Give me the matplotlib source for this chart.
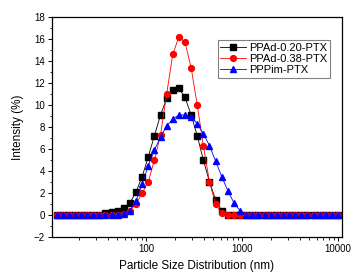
import matplotlib
matplotlib.use('Agg')
import matplotlib.pyplot as plt
from matplotlib.ticker import MultipleLocator, LogLocator, NullFormatter

plt.rcParams['font.family'] = ['Liberation Sans', 'DejaVu Sans']

# DLS size bins (nm)
sizes = [11.7, 13.54, 15.69, 18.17, 21.04, 24.36, 28.21, 32.67, 37.84, 43.82,
         50.75, 58.77, 68.06, 78.82, 91.28, 105.7, 122.4, 141.8, 164.2, 190.1,
         220.2, 255.0, 295.3, 342.0, 396.1, 458.7, 531.2, 615.1, 712.4, 825.0,
         955.4, 1106, 1281, 1484, 1718, 1990, 2305, 2669, 3091, 3580,
         4145, 4801, 5560, 6439, 7456, 8635, 10000]

ppad_020 = [0, 0, 0, 0, 0, 0, 0, 0,
            0.2, 0.3, 0.4, 0.6, 1.1, 2.1, 3.5, 5.3, 7.2, 9.1, 10.6, 11.4,
            11.5, 10.7, 9.1, 7.2, 5.0, 3.0, 1.4, 0.4,
            0, 0, 0, 0, 0, 0, 0, 0, 0, 0, 0, 0, 0, 0, 0, 0, 0, 0, 0]

ppad_038 = [0, 0, 0, 0, 0, 0, 0, 0, 0, 0, 0,
            0.1, 0.4, 1.0, 2.0, 3.0, 5.0, 7.3, 11.0, 14.6, 16.2, 15.7, 13.4,
            10.0, 6.3, 3.0, 1.0, 0.15,
            0, 0, 0, 0, 0, 0, 0, 0, 0, 0, 0, 0, 0, 0, 0, 0, 0, 0, 0]

pppim = [0, 0, 0, 0, 0, 0, 0, 0, 0, 0, 0,
         0.1, 0.4, 1.3, 2.8, 4.5, 5.9, 7.1, 8.1, 8.7, 9.1, 9.1, 8.9,
         8.3, 7.4, 6.3, 4.9, 3.5, 2.2, 1.1, 0.4,
         0, 0, 0, 0, 0, 0, 0, 0, 0, 0, 0, 0, 0, 0, 0, 0]

labels = ['PPAd-0.20-PTX', 'PPAd-0.38-PTX', 'PPPim-PTX']

fig = plt.figure(figsize=(3.63, 2.74), dpi=100)
ax = fig.add_axes([0.1433, 0.135, 0.7987, 0.803])

ax.plot(sizes, ppad_020, color='black', marker='s', markersize=3.8,
        linewidth=0.6, label=labels[0])
ax.plot(sizes, ppad_038, color='red', marker='o', markersize=4.2,
        linewidth=0.6, label=labels[1])
ax.plot(sizes, pppim, color='blue', marker='^', markersize=4.3,
        linewidth=0.6, label=labels[2])

ax.set_xscale('log')
ax.set_xlim(10.5, 11000)
ax.set_ylim(-2, 18)
ax.yaxis.set_major_locator(MultipleLocator(2))
ax.yaxis.set_minor_locator(MultipleLocator(1))
ax.xaxis.set_major_locator(LogLocator(base=10))
ax.xaxis.set_minor_locator(LogLocator(base=10, subs=range(2, 10)))
ax.xaxis.set_minor_formatter(NullFormatter())
ax.set_xticks([100, 1000, 10000])
ax.set_xticklabels(['100', '1000', '10000'])

ax.tick_params(which='major', direction='out', length=3, width=0.7,
               labelsize=7, pad=2, top=False, right=False)
ax.tick_params(which='minor', direction='out', length=1.8, width=0.6,
               top=False, right=False)
for sp in ax.spines.values():
    sp.set_linewidth(0.9)

ax.set_xlabel('Particle Size Distribution (nm)', fontsize=8.5, labelpad=4)
ax.set_ylabel('Intensity (%)', fontsize=8.5, labelpad=7)

leg = ax.legend(loc='upper left', bbox_to_anchor=(0.571, 0.895),
                borderaxespad=0, fontsize=8, fancybox=False,
                handlelength=2.3, handletextpad=0.3, borderpad=0.25,
                labelspacing=0.1, framealpha=1)
leg.get_frame().set_edgecolor('gray')
leg.get_frame().set_linewidth(0.8)

fig.savefig('out.png', dpi=100)
